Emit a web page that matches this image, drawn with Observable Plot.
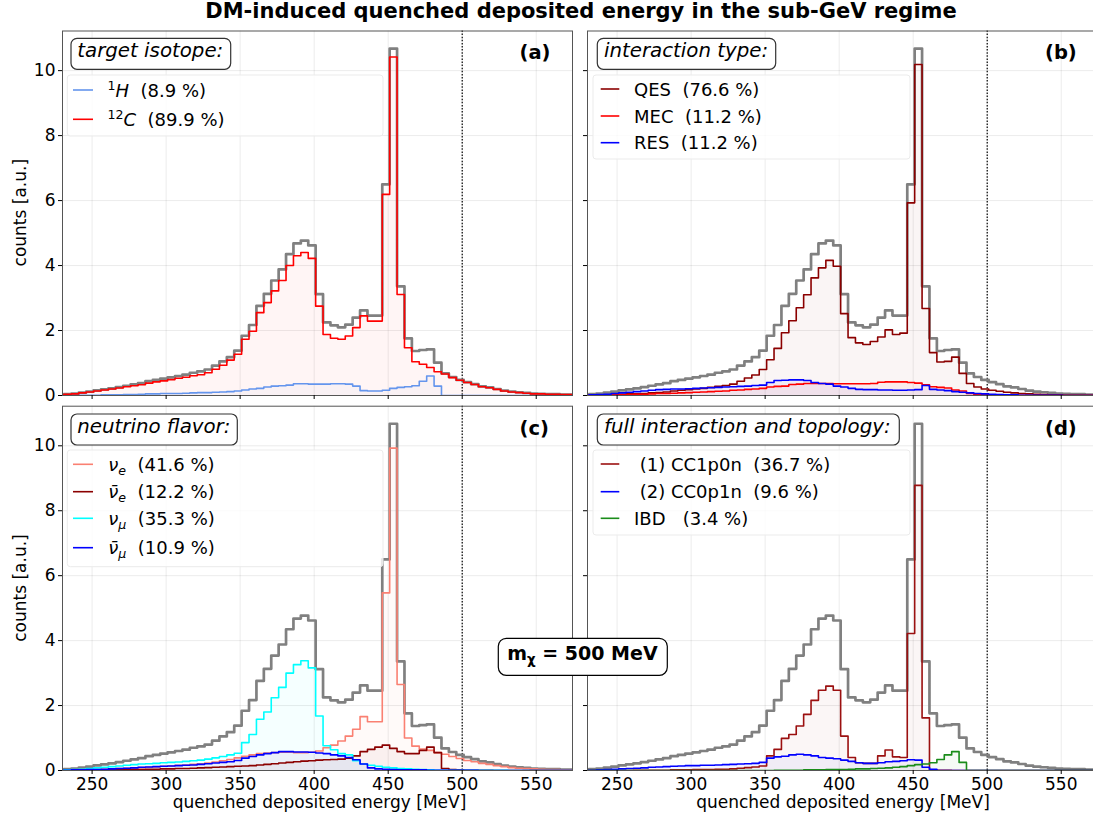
<!DOCTYPE html>
<html>
<head>
<meta charset="utf-8">
<script src="https://cdn.jsdelivr.net/npm/d3@7"></script>
<script src="https://cdn.jsdelivr.net/npm/@observablehq/plot@0.6"></script>
<style>
  html, body { margin: 0; padding: 0; background: #fff; overflow: hidden; }
  #fig { position: relative; width: 1093px; height: 818px; overflow: hidden; font-family: "DejaVu Sans", sans-serif; }
</style>
</head>
<body>
<div id="fig"></div>
<script>
// ---------- data ----------
const binEdges = [226,231,236,241,246,251,256,261,266,271,276,281,286,291,296,301,306,311,316,321,326,331,336,341,346,351,356,361,366,371,376,381,386,391,396,401,406,411,416,421,426,431,436,441,446,451,456,461,466,471,476,481,486,491,496,501,506,511,516,521,526,531,536,541,546,551,556,561,566,571,576];
const xTicks = [250, 300, 350, 400, 450, 500, 550];
const yTicks = [0, 2, 4, 6, 8, 10];
const thresholdEnergy = [500];

const totalCounts = [0.02,0.04,0.06,0.09,0.12,0.16,0.19,0.22,0.26,0.30,
 0.34,0.38,0.44,0.48,0.52,0.56,0.60,0.64,0.70,0.74,
 0.80,0.92,1.05,1.18,1.38,1.84,2.17,2.76,3.13,3.54,
 3.88,4.35,4.68,4.77,4.62,3.12,2.25,2.16,2.10,2.18,
 2.40,2.62,2.46,2.46,6.50,10.68,3.36,1.76,1.37,1.40,
 1.42,1.01,0.68,0.57,0.48,0.41,0.35,0.28,0.25,0.20,
 0.15,0.12,0.10,0.08,0.06,0.05,0.04,0.04,0.03,0.03];

// (a) target isotope
const hydrogen = [0.00,0.00,0.01,0.01,0.01,0.01,0.02,0.02,0.02,0.03,
 0.03,0.04,0.05,0.05,0.06,0.06,0.06,0.07,0.08,0.09,
 0.09,0.10,0.11,0.12,0.14,0.17,0.20,0.22,0.26,0.29,
 0.30,0.32,0.36,0.36,0.35,0.35,0.35,0.36,0.36,0.35,
 0.29,0.15,0.14,0.14,0.16,0.22,0.25,0.27,0.30,0.44,
 0.60,0.29,0,0,0,0,0,0,0,0,
 0,0,0,0,0,0,0,0,0,0];
const carbon = [0.02,0.04,0.05,0.08,0.11,0.14,0.17,0.20,0.23,0.27,
 0.30,0.33,0.38,0.42,0.45,0.49,0.53,0.56,0.61,0.64,
 0.70,0.81,0.93,1.09,1.27,1.73,1.98,2.55,2.86,3.22,
 3.54,4.00,4.30,4.40,4.22,2.75,1.88,1.76,1.73,1.83,
 2.09,2.45,2.29,2.29,6.19,10.42,3.11,1.47,1.04,0.96,
 0.86,0.73,0.66,0.55,0.47,0.40,0.34,0.27,0.24,0.19,
 0.14,0.11,0.09,0.07,0.05,0.05,0.04,0.04,0.03,0.03];

// (b) interaction type
const qes = [0.00,0.01,0.01,0.02,0.03,0.04,0.05,0.05,0.06,0.08,
 0.09,0.11,0.14,0.16,0.18,0.20,0.22,0.25,0.28,0.31,
 0.35,0.44,0.54,0.63,0.80,1.10,1.45,1.93,2.30,2.70,
 3.10,3.62,3.93,4.16,3.98,2.52,1.78,1.62,1.57,1.66,
 1.80,2.02,1.88,1.92,5.93,10.19,2.68,1.32,1.03,1.05,
 1.18,0.68,0.37,0.26,0.20,0.16,0.13,0.10,0.08,0.06,
 0.05,0.04,0.03,0.02,0.02,0.01,0.01,0.01,0.01,0.01];
const mec = [0.01,0.01,0.01,0.02,0.02,0.03,0.03,0.04,0.04,0.05,
 0.06,0.06,0.07,0.08,0.09,0.10,0.11,0.12,0.13,0.14,
 0.16,0.17,0.19,0.20,0.22,0.26,0.28,0.29,0.34,0.35,
 0.37,0.37,0.37,0.37,0.36,0.36,0.36,0.36,0.36,0.37,
 0.41,0.42,0.42,0.42,0.40,0.38,0.33,0.27,0.25,0.23,
 0.17,0.14,0.06,0.03,0.02,0.02,0.01,0.01,0.01,0.01,
 0,0,0,0,0,0,0,0,0,0];
const res = [0.01,0.02,0.03,0.04,0.06,0.08,0.10,0.12,0.14,0.16,
 0.18,0.19,0.20,0.20,0.21,0.22,0.23,0.24,0.25,0.26,
 0.27,0.28,0.29,0.31,0.32,0.40,0.46,0.47,0.48,0.48,
 0.46,0.40,0.37,0.35,0.29,0.26,0.22,0.19,0.18,0.18,
 0.17,0.17,0.16,0.16,0.17,0.18,0.31,0.19,0.17,0.15,
 0.12,0.10,0.08,0.06,0.05,0.04,0.03,0.02,0.02,0.01,
 0.01,0.01,0.01,0.01,0.01,0,0,0,0,0];

// (c) neutrino flavor
const nuE = [0.01,0.01,0.02,0.02,0.03,0.03,0.04,0.05,0.06,0.07,
 0.08,0.09,0.10,0.11,0.13,0.14,0.16,0.17,0.19,0.21,
 0.23,0.26,0.30,0.34,0.39,0.44,0.48,0.52,0.54,0.55,
 0.56,0.56,0.55,0.55,0.56,0.60,0.70,0.78,0.91,1.06,
 1.27,1.66,1.50,1.50,5.47,9.93,2.65,1.00,0.75,0.66,
 0.62,0.55,0.50,0.43,0.37,0.31,0.27,0.22,0.19,0.15,
 0.12,0.09,0.07,0.06,0.05,0.04,0.03,0.03,0.02,0.02];
const nuEbar = [0.00,0.00,0.00,0.01,0.01,0.01,0.01,0.02,0.02,0.02,
 0.03,0.03,0.04,0.04,0.05,0.05,0.06,0.06,0.07,0.08,
 0.09,0.10,0.11,0.12,0.13,0.14,0.15,0.17,0.19,0.21,
 0.23,0.25,0.27,0.29,0.30,0.32,0.33,0.34,0.35,0.38,
 0.45,0.58,0.65,0.72,0.78,0.68,0.58,0.52,0.52,0.62,
 0.72,0.55,0.06,0.03,0.02,0.01,0.01,0.01,0.01,0,
 0,0,0,0,0,0,0,0,0,0];
const nuMu = [0.01,0.02,0.03,0.04,0.06,0.08,0.10,0.12,0.14,0.16,
 0.18,0.20,0.21,0.22,0.24,0.25,0.26,0.28,0.30,0.32,
 0.35,0.39,0.43,0.48,0.53,0.86,1.11,1.58,1.80,2.24,
 2.56,3.00,3.26,3.38,3.16,1.68,0.76,0.64,0.52,0.48,
 0.30,0.20,0.16,0.13,0.10,0.08,0.06,0.05,0.04,0.03,
 0.02,0.01,0.01,0.01,0.01,0.01,0.01,0.01,0.01,0.01,
 0.01,0,0,0,0,0,0,0,0,0];
const nuMubar = [0.01,0.01,0.02,0.02,0.03,0.03,0.04,0.05,0.06,0.07,
 0.08,0.10,0.11,0.12,0.13,0.14,0.15,0.16,0.17,0.19,
 0.21,0.23,0.25,0.27,0.31,0.38,0.43,0.48,0.52,0.55,
 0.58,0.58,0.57,0.57,0.56,0.54,0.52,0.48,0.45,0.40,
 0.33,0.20,0.08,0.05,0.04,0.03,0.02,0.02,0.02,0.02,
 0.01,0.01,0.01,0.01,0.01,0.01,0.01,0,0,0,
 0,0,0,0,0,0,0,0,0,0];

// (d) full interaction and topology
const cc1p0n = [0,0,0,0,0,0,0,0.01,0.01,0.01,
 0.01,0.01,0.02,0.02,0.02,0.03,0.03,0.03,0.04,0.04,
 0.05,0.07,0.09,0.11,0.14,0.45,0.65,0.99,1.11,1.37,
 1.73,2.16,2.47,2.60,2.47,1.06,0.40,0.24,0.22,0.22,
 0.45,0.63,0.42,0.40,4.22,8.78,1.62,0.02,0.01,0.01,
 0,0,0,0,0,0,0,0,0,0,
 0,0,0,0,0,0,0,0,0,0];
const cc0p1n = [0.01,0.01,0.02,0.03,0.04,0.05,0.06,0.07,0.08,0.10,
 0.11,0.12,0.13,0.14,0.15,0.15,0.16,0.16,0.17,0.18,
 0.19,0.20,0.21,0.22,0.25,0.38,0.42,0.44,0.48,0.50,
 0.48,0.45,0.40,0.38,0.36,0.32,0.28,0.24,0.22,0.22,
 0.24,0.27,0.28,0.30,0.33,0.32,0.10,0.04,0,0,
 0,0,0,0,0,0,0,0,0,0,
 0,0,0,0,0,0,0,0,0,0];
const ibd = [0,0,0,0,0,0,0,0,0,0,
 0,0,0,0,0,0,0,0,0,0,
 0,0,0,0,0,0,0.01,0.01,0.01,0.01,
 0.02,0.02,0.02,0.03,0.03,0.03,0.04,0.05,0.05,0.06,
 0.07,0.08,0.10,0.12,0.15,0.18,0.20,0.24,0.34,0.48,
 0.58,0.25,0,0,0,0,0,0,0,0,
 0,0,0,0,0,0,0,0,0,0];

const panelTitles = ["target isotope:", "interaction type:", "neutrino flavor:", "full interaction and topology:"];
const panelTags = ["(a)", "(b)", "(c)", "(d)"];
const isotopeShares = ["8.9 %", "89.9 %"];
const interactionNames = ["QES", "MEC", "RES"];
const interactionShares = ["76.6 %", "11.2 %", "11.2 %"];
const flavorShares = ["41.6 %", "12.2 %", "35.3 %", "10.9 %"];
const topologyNames = [" (1) CC1p0n", " (2) CC0p1n", "IBD "];
const topologyShares = ["36.7 %", "9.6 %", "3.4 %"];

// ---------- layout ----------
const FONT = "DejaVu Sans";
const xDomain = [230, 574.5];
const yDomain = [0, 11.22];
const fig = document.getElementById("fig");

function steps(vals) {
  const pts = vals.map((v, i) => ({x: binEdges[i], y: v}));
  pts.push({x: binEdges[vals.length], y: vals[vals.length - 1]});
  return pts;
}

function panel({left, top, width, height, mL, mR, mT, mB, xLabels, yLabels, series}) {
  const marks = [
    Plot.gridX({ticks: xTicks, stroke: "#000", strokeOpacity: 0.08}),
    Plot.gridY({ticks: yTicks, stroke: "#000", strokeOpacity: 0.08}),
    ...series.map(s => Plot.areaY(steps(s.values), {x: "x", y: "y", curve: "step-after", fill: s.color, fillOpacity: 0.04, clip: true})),
    Plot.ruleX(thresholdEnergy, {stroke: "#000", strokeWidth: 1.2, strokeDasharray: "1.5,1.6"}),
    Plot.line(steps(totalCounts), {x: "x", y: "y", curve: "step-after", stroke: "#808080", strokeWidth: 2.7, clip: true}),
    ...series.map(s => Plot.line(steps(s.values), {x: "x", y: "y", curve: "step-after", stroke: s.color, strokeWidth: 1.6, clip: true})),
    Plot.frame({stroke: "#555"}),
    Plot.axisX({ticks: xTicks, tickSize: 4, tickPadding: 3, fontSize: 17, label: null, tickFormat: xLabels ? (d => String(d)) : (() => "")}),
    Plot.axisY({ticks: yTicks, tickSize: 4, tickPadding: 3, fontSize: 17, label: null, tickFormat: yLabels ? (d => String(d)) : (() => "")})
  ];
  const svg = Plot.plot({
    width, height,
    marginLeft: mL, marginRight: mR, marginTop: mT, marginBottom: mB,
    x: {domain: xDomain},
    y: {domain: yDomain},
    style: {fontFamily: FONT, fontSize: "17px", background: "transparent", overflow: "visible", color: "#000"},
    marks
  });
  svg.style.position = "absolute";
  svg.style.left = left + "px";
  svg.style.top = top + "px";
  fig.appendChild(svg);
}

const cA = [{values: hydrogen, color: "#6495ED"}, {values: carbon, color: "#FF0000"}];
const cB = [{values: qes, color: "#8B0000"}, {values: mec, color: "#FF0000"}, {values: res, color: "#0000FF"}];
const cC = [{values: nuE, color: "#FA8072"}, {values: nuEbar, color: "#8B0000"}, {values: nuMu, color: "#00FFFF"}, {values: nuMubar, color: "#0000FF"}];
const cD = [{values: cc1p0n, color: "#9B1010"}, {values: cc0p1n, color: "#0000FF"}, {values: ibd, color: "#1A8C1A"}];

panel({left: 0,   top: 0,   width: 573, height: 400, mL: 62, mR: 1, mT: 30.5, mB: 5,  xLabels: false, yLabels: true,  series: cA});
panel({left: 580, top: 0,   width: 518, height: 400, mL: 7,  mR: 1, mT: 30.5, mB: 5,  xLabels: false, yLabels: false, series: cB});
panel({left: 0,   top: 400, width: 573, height: 400, mL: 62, mR: 1, mT: 5.7,  mB: 30, xLabels: true,  yLabels: true,  series: cC});
panel({left: 580, top: 400, width: 518, height: 400, mL: 7,  mR: 1, mT: 5.7,  mB: 30, xLabels: true,  yLabels: false, series: cD});

// ---------- overlay texts ----------
const ov = d3.select(fig).append("svg")
  .attr("width", 1093).attr("height", 818)
  .style("position", "absolute").style("left", "0px").style("top", "0px")
  .style("font-family", FONT).style("overflow", "visible");

function rich(x, y, size, parts, extra = {}) {
  const t = ov.append("text").attr("x", x).attr("y", y).attr("font-size", size)
    .style("white-space", "pre").attr("fill", "#000");
  for (const k in extra) t.attr(k, extra[k]);
  let shift = 0;
  for (const p of parts) {
    const target = p.sup ? -0.38 * size : p.sub ? 0.22 * size : 0;
    const ts = t.append("tspan").text(p.t).attr("dy", target - shift);
    shift = target;
    if (p.sup || p.sub) ts.attr("font-size", size * 0.7);
    if (p.it) ts.attr("font-style", "italic");
    if (p.b) ts.attr("font-weight", "bold");
  }
  return t;
}

// suptitle
ov.append("text").attr("x", 581).attr("y", 18.3).attr("text-anchor", "middle")
  .attr("font-size", 21).attr("font-weight", "bold").text("DM-induced quenched deposited energy in the sub-GeV regime");

// axis labels
[212.7, 588].forEach(cy => {
  ov.append("text").attr("transform", `translate(26,${cy}) rotate(-90)`).attr("text-anchor", "middle")
    .attr("font-size", 17).text("counts [a.u.]");
});
[319.5, 843].forEach(cx => {
  ov.append("text").attr("x", cx).attr("y", 808).attr("text-anchor", "middle")
    .attr("font-size", 17).text("quenched deposited energy [MeV]");
});

// panel tags
[[519.5, 59.2], [1045, 59.2], [519.5, 435.2], [1045, 435.2]].forEach(([x, y], i) => {
  ov.append("text").attr("x", x).attr("y", y).attr("font-size", 19.5).attr("font-weight", "bold").text(panelTags[i]);
});

// legend frames (faint) and title boxes
const legendFrames = [[67.3, 75, 315.7, 61], [593, 75, 317, 84], [67.3, 450, 315.7, 116.7], [593, 450, 317, 85]];
legendFrames.forEach(([x, y, w, h]) => {
  ov.append("rect").attr("x", x).attr("y", y).attr("width", w).attr("height", h).attr("rx", 3)
    .attr("fill", "#fff").attr("fill-opacity", 0.8).attr("stroke", "#ebebeb").attr("stroke-width", 1);
});
const titleBoxes = [[71, 38.3, 159.7, 31], [597.3, 38.3, 178.4, 31], [71, 414, 166.3, 31], [597.3, 414, 302, 31]];
const titleTextX = [77.3, 604, 77.3, 604];
titleBoxes.forEach(([x, y, w, h], i) => {
  ov.append("rect").attr("x", x).attr("y", y).attr("width", w).attr("height", h).attr("rx", 6)
    .attr("fill", "#fff").attr("stroke", "#333").attr("stroke-width", 1.2);
  ov.append("text").attr("x", titleTextX[i]).attr("y", y + 18.7).attr("font-size", 19.8)
    .attr("font-style", "italic").text(panelTitles[i]);
});

function legendLine(x1, x2, y, color) {
  ov.append("line").attr("x1", x1).attr("x2", x2).attr("y1", y).attr("y2", y)
    .attr("stroke", color).attr("stroke-width", 1.6);
}
const LS = 18;
// (a)
legendLine(73, 93, 90, "#6495ED");
rich(107.5, 97, LS, [{t: "1", sup: true}, {t: "H", it: true}, {t: "  (" + isotopeShares[0] + ")"}]);
legendLine(73, 93, 119.3, "#FF0000");
rich(107.5, 126, LS, [{t: "12", sup: true}, {t: "C", it: true}, {t: "  (" + isotopeShares[1] + ")"}]);
// (b)
const bCols = ["#8B0000", "#FF0000", "#0000FF"];
[89, 116, 142.7].forEach((ly, i) => {
  legendLine(600.7, 619.3, ly, bCols[i]);
  rich(634, ly + 6.5, LS, [{t: interactionNames[i] + "  (" + interactionShares[i] + ")"}]);
});
// (c)
const cCols = ["#FA8072", "#8B0000", "#00FFFF", "#0000FF"];
const flavorSym = [["ν", "e"], ["ν\u0304", "e"], ["ν", "μ"], ["ν\u0304", "μ"]];
[464.3, 491.7, 518.3, 547.7].forEach((ly, i) => {
  legendLine(73, 93, ly, cCols[i]);
  rich(108.3, ly + 6.5, LS, [{t: flavorSym[i][0], it: true}, {t: flavorSym[i][1], it: true, sub: true}, {t: "  (" + flavorShares[i] + ")"}]);
});
// (d)
const dCols = ["#9B1010", "#0000FF", "#1A8C1A"];
[464, 491.7, 518.3].forEach((ly, i) => {
  legendLine(600.7, 619.3, ly, dCols[i]);
  rich(634, ly + 6.5, LS, [{t: topologyNames[i] + "  (" + topologyShares[i] + ")"}]);
});

// dark-matter mass box
ov.append("rect").attr("x", 498.3).attr("y", 638.3).attr("width", 169).attr("height", 37).attr("rx", 8)
  .attr("fill", "#fff").attr("stroke", "#000").attr("stroke-width", 1.2);
rich(507.3, 660, 19, [{t: "m", b: true}, {t: "χ", b: true, sub: true}, {t: " = 500 MeV", b: true}]);
</script>
</body>
</html>
